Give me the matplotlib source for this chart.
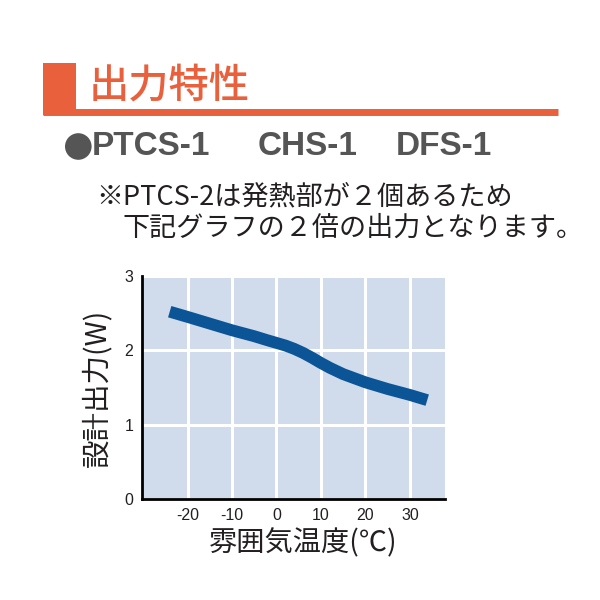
import matplotlib
matplotlib.use("Agg")
import matplotlib.pyplot as plt
from matplotlib.patches import Rectangle, Circle
from matplotlib.lines import Line2D

plt.rcParams['font.family'] = ['Noto Sans CJK JP', 'DejaVu Sans']

# data
temp = [-24.0, -20, -15, -10, -5, -2, 0, 2, 4, 6, 8, 10, 12, 15, 20, 25, 30, 33.9]
power = [2.52, 2.45, 2.36, 2.27, 2.19, 2.135, 2.10, 2.065, 2.02, 1.965, 1.90,
         1.83, 1.765, 1.68, 1.57, 1.48, 1.40, 1.33]
xticks = [-20, -10, 0, 10, 20, 30]
yticks = [0, 1, 2, 3]

title = "出力特性"
models = ["PTCS-1", "CHS-1", "DFS-1"]
note1 = "※PTCS-2は発熱部が２個あるため"
note2 = "下記グラフの２倍の出力となります。"
xlabel = "雰囲気温度(℃)"
ylabel = "設計出力(W)"

orange = "#e8603c"
ink = "#231f20"
W = 600.0


def fx(px):
    return px / W


def fy(py):
    return 1 - py / W


fig = plt.figure(figsize=(6, 6), dpi=100)

# header decoration
fig.add_artist(Rectangle((fx(43.3), fy(115)), 33/W, 52/W,
                         transform=fig.transFigure, color=orange, lw=0))
fig.add_artist(Line2D([fx(43.3), fx(558)], [fy(111.7), fy(111.7)],
                      transform=fig.transFigure, color=orange, lw=5,
                      solid_capstyle='butt'))
fig.text(fx(89), fy(86), title, color=orange, fontsize=29,
         va='center', ha='left', fontweight='medium')

# model line
fig.add_artist(Circle((fx(78.3), fy(146.5)), 13.3/W,
                      transform=fig.transFigure, color="#555555", lw=0))
for name, px in zip(models, [92, 258, 396]):
    fig.text(fx(px), fy(146.5), name, color="#555555", fontsize=24,
             va='center', ha='left', family='Liberation Sans',
             fontweight='bold')

fig.text(fx(96), fy(197), note1, color=ink, fontsize=19.5,
         va='center', ha='left')
fig.text(fx(122), fy(228.5), note2, color=ink, fontsize=19.5,
         va='center', ha='left')

ax = fig.add_axes([fx(141.7), fy(499), (445-141.7)/W, (499-276)/W])
ax.set_facecolor("#d0dbec")
ax.plot(temp, power, color="#0b5597", lw=8.5, solid_capstyle='butt',
        solid_joinstyle='round', zorder=3)
ax.set_xlim(-30.3, 37.9)
ax.set_ylim(0, 3)
ax.set_xticks(xticks)
ax.set_yticks(yticks)
ax.set_xticklabels([str(t) for t in xticks], family='Liberation Sans')
ax.set_yticklabels([str(t) for t in yticks], family='Liberation Sans')
ax.tick_params(length=0, labelsize=11.5, colors=ink)
ax.tick_params(axis='x', pad=6.5)
ax.tick_params(axis='y', pad=6)
ax.grid(True, color='white', lw=2.2)
ax.set_axisbelow(True)
for s in ['top', 'right']:
    ax.spines[s].set_visible(False)
for s in ['left', 'bottom']:
    ax.spines[s].set_linewidth(2)
    ax.spines[s].set_color('black')

fig.text(fx(303), fy(543), xlabel, color=ink, fontsize=20.3,
         va='center', ha='center')
fig.text(fx(97), fy(388), ylabel, color=ink, fontsize=20.5,
         va='center', ha='center', rotation=90)

fig.savefig("out.png", dpi=100)
